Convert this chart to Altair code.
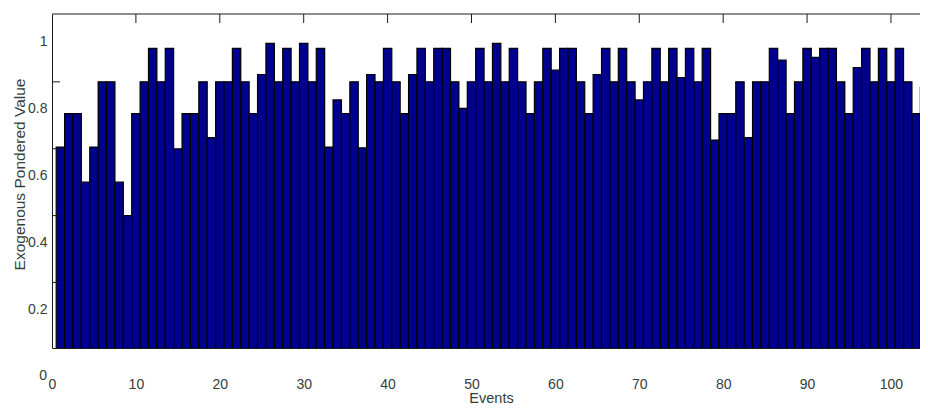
import altair as alt
import pandas as pd

# ---- data ----
events = list(range(1, 105))
values = [
    0.685, 0.785, 0.785, 0.58, 0.685, 0.88, 0.88, 0.58, 0.48, 0.785,
    0.88, 0.98, 0.88, 0.98, 0.68, 0.785, 0.785, 0.88, 0.713, 0.88,
    0.88, 0.98, 0.88, 0.785, 0.902, 0.995, 0.88, 0.98, 0.88, 0.995,
    0.88, 0.98, 0.685, 0.826, 0.785, 0.88, 0.683, 0.902, 0.88, 0.98,
    0.88, 0.785, 0.902, 0.98, 0.88, 0.98, 0.98, 0.88, 0.801, 0.88,
    0.98, 0.88, 0.995, 0.88, 0.98, 0.88, 0.785, 0.88, 0.98, 0.915,
    0.98, 0.98, 0.88, 0.785, 0.902, 0.98, 0.88, 0.98, 0.88, 0.826,
    0.88, 0.98, 0.88, 0.98, 0.893, 0.98, 0.88, 0.98, 0.706, 0.785,
    0.785, 0.88, 0.713, 0.88, 0.88, 0.98, 0.945, 0.785, 0.88, 0.98,
    0.953, 0.98, 0.98, 0.88, 0.785, 0.923, 0.98, 0.88, 0.98, 0.88,
    0.98, 0.88, 0.785, 0.863,
]
x_label_values = [0, 10, 20, 30, 40, 50, 60, 70, 80, 90, 100]
y_label_values = [0.2, 0.4, 0.6, 0.8, 1]
y_outside_labels = [0]
top_tick_values = [10, 20, 30, 40, 50, 60, 70, 80, 90, 100]
left_tick_values = [0.28, 0.48, 0.68, 0.88]

W, H = 868, 334
X_DOMAIN = [0, 103.46]
Y_DOMAIN = [0.084, 1.083]

FONT = "Liberation Sans"
TXT = "#34403a"
LINE = "#1a1a1a"

df = pd.DataFrame({"event": events, "value": values})
xscale = alt.Scale(domain=X_DOMAIN, nice=False, zero=False)
yscale = alt.Scale(domain=Y_DOMAIN, nice=False, zero=False)

x_axis = alt.Axis(
    values=x_label_values, title="Events", grid=False, ticks=False, tickSize=0,
    labelFlush=False, labelOverlap=False, labelPadding=36, labelBaseline="middle",
    labelFont=FONT, labelFontSize=14, labelColor=TXT,
    domainColor=LINE, domainWidth=1,
    titleFont=FONT, titleFontSize=14.5, titleFontWeight="normal", titleColor=TXT,
    titleX=439, titleY=54, titleBaseline="alphabetic", titleAlign="center",
)
y_axis = alt.Axis(
    values=y_label_values, format="~g", title="Exogenous Pondered Value", grid=False,
    ticks=False, tickSize=0, labelFlush=False, labelOverlap=False, labelPadding=5,
    labelFont=FONT, labelFontSize=14, labelColor=TXT,
    domainColor=LINE, domainWidth=1,
    titleFont=FONT, titleFontSize=15.5, titleFontWeight="normal", titleColor=TXT,
    titleX=-33, titleY=160, titleAngle=270, titleBaseline="middle", titleAlign="center",
)

bars = (
    alt.Chart(df)
    .transform_calculate(x0="datum.event - 0.5", x1="datum.event + 0.5")
    .mark_rect(fill="#00008e", stroke="#000000", strokeWidth=1.2, clip=True)
    .encode(
        x=alt.X("x0:Q", scale=xscale, axis=x_axis),
        x2="x1:Q",
        y=alt.Y("value:Q", scale=yscale, axis=y_axis),
        y2=alt.datum(0),
    )
)

left_ticks = (
    alt.Chart(pd.DataFrame({"v": left_tick_values}))
    .mark_rule(color=LINE, strokeWidth=1)
    .encode(y=alt.Y("v:Q", scale=yscale), x=alt.value(0), x2=alt.value(8))
)
top_ticks = (
    alt.Chart(pd.DataFrame({"t": top_tick_values}))
    .mark_rule(color=LINE, strokeWidth=1)
    .encode(x=alt.X("t:Q", scale=xscale), y=alt.value(0), y2=alt.value(9))
)
top_frame = (
    alt.Chart(pd.DataFrame({"a": [0]}))
    .mark_rule(color=LINE, strokeWidth=1)
    .encode(x=alt.value(0), x2=alt.value(W), y=alt.value(0))
)
zero_label = (
    alt.Chart(pd.DataFrame({"v": y_outside_labels}))
    .mark_text(align="right", baseline="middle", font=FONT, fontSize=14, color=TXT, clip=False)
    .encode(y=alt.Y("v:Q", scale=yscale), x=alt.value(-5), text=alt.Text("v:Q", format="~g"))
)

chart = (
    alt.layer(bars, left_ticks, top_ticks, top_frame, zero_label)
    .properties(
        width=W, height=H,
        autosize=alt.AutoSizeParams(type="none"),
        padding={"left": 44, "top": 6, "right": 0, "bottom": 58},
        background="white",
    )
    .configure_view(stroke=None)
)

chart.save("out.html", embed_options={"renderer": "svg", "actions": False})
